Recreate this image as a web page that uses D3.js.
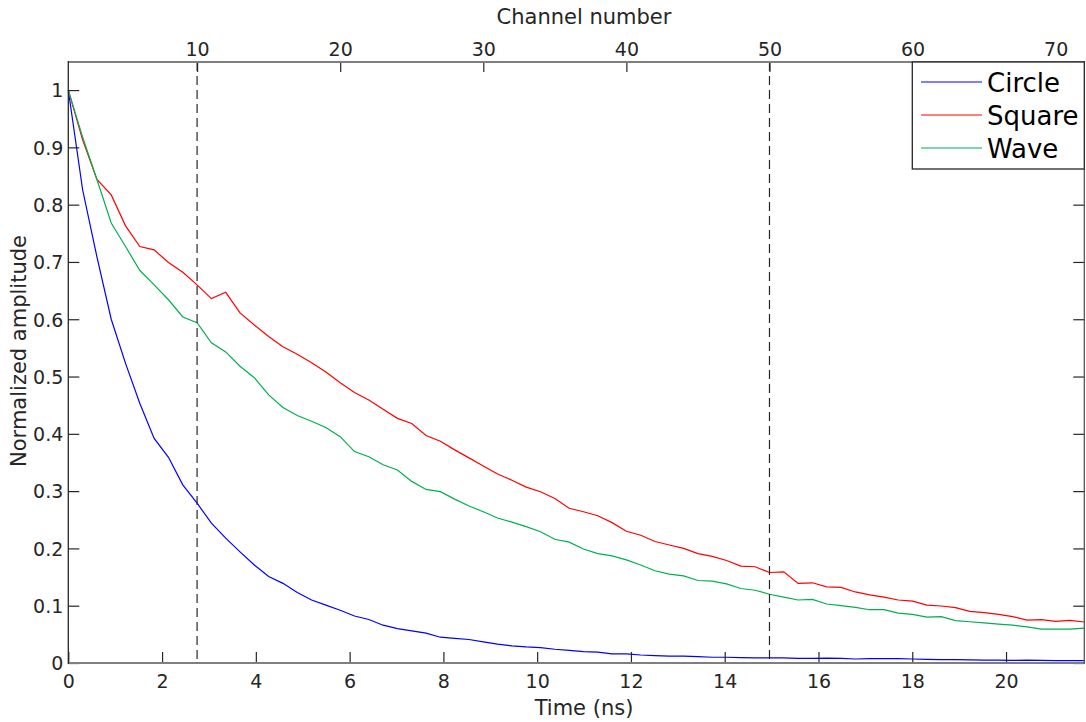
<!DOCTYPE html>
<html><head><meta charset="utf-8">
<script src="https://cdn.jsdelivr.net/npm/d3@7"></script>
<style>
html,body{margin:0;padding:0;background:#fff;}
svg text{font-family:"DejaVu Sans",sans-serif;fill:#262626;}
svg .tick text{font-size:19px;}
</style></head>
<body>
<svg id="chart" width="1086" height="722"></svg>
<script>
// ---------- data ----------
const channels = d3.range(1, 73);           // channel numbers 1..72
const nsPerChannel = 0.3052;                 // time step between channels
const circle = [1.0,0.826,0.709,0.600,0.523,0.453,0.392,0.359,0.311,0.279,
  0.244,0.218,0.194,0.171,0.151,0.139,0.123,0.110,0.101,0.092,
  0.082,0.076,0.066,0.060,0.056,0.052,0.045,0.043,0.041,0.037,
  0.033,0.030,0.028,0.027,0.024,0.022,0.020,0.019,0.016,0.016,
  0.014,0.013,0.012,0.012,0.011,0.010,0.010,0.0095,0.009,0.009,
  0.009,0.008,0.008,0.0085,0.008,0.007,0.0075,0.0075,0.0075,0.007,
  0.0065,0.006,0.006,0.0055,0.005,0.005,0.0045,0.005,0.0045,0.004,
  0.004,0.004];
const square = [1.0,0.913,0.844,0.817,0.763,0.727,0.721,0.699,0.682,0.660,
  0.636,0.647,0.611,0.590,0.570,0.552,0.539,0.524,0.508,0.489,
  0.472,0.459,0.443,0.427,0.418,0.397,0.387,0.372,0.358,0.344,
  0.330,0.319,0.307,0.299,0.287,0.270,0.264,0.257,0.245,0.230,
  0.223,0.212,0.206,0.200,0.191,0.186,0.179,0.169,0.168,0.158,
  0.159,0.139,0.140,0.133,0.132,0.124,0.119,0.115,0.110,0.108,
  0.101,0.0995,0.0966,0.090,0.088,0.085,0.081,0.075,0.0757,0.0727,
  0.0745,0.0716];
const wave = [1.0,0.918,0.844,0.768,0.727,0.685,0.660,0.634,0.604,0.594,
  0.559,0.543,0.518,0.498,0.468,0.446,0.432,0.422,0.411,0.395,
  0.369,0.360,0.346,0.337,0.317,0.303,0.299,0.286,0.274,0.264,
  0.253,0.246,0.238,0.229,0.216,0.211,0.199,0.191,0.187,0.180,
  0.171,0.161,0.155,0.152,0.144,0.143,0.138,0.130,0.127,0.120,
  0.115,0.110,0.111,0.103,0.100,0.097,0.093,0.093,0.087,0.085,
  0.080,0.081,0.074,0.072,0.070,0.068,0.066,0.063,0.059,0.059,
  0.059,0.061];
const seriesNames = ["Circle","Square","Wave"];
const seriesColors = ["#0000ff","#ff0000","#00b050"];
const timeTicks = [0,2,4,6,8,10,12,14,16,18,20];
const channelTicks = [10,20,30,40,50,60,70];
const ampTicks = [0,0.1,0.2,0.3,0.4,0.5,0.6,0.7,0.8,0.9,1];
const markerChannels = [10,50];

// ---------- layout ----------
const L = 68.3, R = 1084.3, T = 62, B = 663;
const svg = d3.select("#chart");
const tMax = (channels[channels.length-1]-1)*nsPerChannel;
const x = d3.scaleLinear().domain([0, tMax]).range([L, R]);
const xc = d3.scaleLinear().domain([channels[0], channels[channels.length-1]]).range([L, R]);
const y = d3.scaleLinear().domain([0, 1.049]).range([B, T]);
const dark = "#262626";

// lines
const all = [circle, square, wave];
const line = d3.line().x((d,i)=>x((channels[i]-1)*nsPerChannel)).y(d=>y(d));
all.forEach((s,k)=>{
  svg.append("path").attr("d", line(s)).attr("fill","none")
    .attr("stroke", seriesColors[k]).attr("stroke-width",1.2);
});

// dashed markers
markerChannels.forEach(c=>{
  svg.append("line").attr("x1",xc(c)).attr("x2",xc(c)).attr("y1",T).attr("y2",B)
    .attr("stroke",dark).attr("stroke-width",1.2).attr("stroke-dasharray","9,5");
});

// ticks via axes
const gB = svg.append("g").attr("transform",`translate(0,${B})`)
  .call(d3.axisBottom(x).tickValues(timeTicks).tickSizeInner(-11).tickSizeOuter(0).tickPadding(12).tickFormat(d3.format("d")));
const gT = svg.append("g").attr("transform",`translate(0,${T})`)
  .call(d3.axisTop(xc).tickValues(channelTicks).tickSizeInner(-10).tickSizeOuter(0).tickPadding(6).tickFormat(d3.format("d")));
const gL = svg.append("g").attr("transform",`translate(${L},0)`)
  .call(d3.axisLeft(y).tickValues(ampTicks).tickSizeInner(-11).tickSizeOuter(0).tickPadding(5).tickFormat(d=>d===0?"0":d===1?"1":d3.format(".1f")(d)));
const gR = svg.append("g").attr("transform",`translate(${R},0)`)
  .call(d3.axisRight(y).tickValues(ampTicks).tickSizeInner(-11).tickSizeOuter(0).tickFormat(""));
[gB,gT,gL,gR].forEach(g=>{
  g.attr("font-size",19).attr("font-family","DejaVu Sans");
  g.select(".domain").remove();
  g.selectAll(".tick line").attr("stroke",dark).attr("stroke-width",1.2);
  g.selectAll(".tick text").style("fill",dark);
});
gT.selectAll(".tick text").attr("dy","0");
gL.selectAll(".tick text").attr("dy","0.36em");

// box lines
svg.append("line").attr("x1",L).attr("x2",R).attr("y1",T).attr("y2",T).attr("stroke","#7f7f7f").attr("stroke-width",2);
svg.append("line").attr("x1",L).attr("x2",R).attr("y1",B).attr("y2",B).attr("stroke","#7f7f7f").attr("stroke-width",2);
svg.append("line").attr("x1",L).attr("x2",L).attr("y1",T-1).attr("y2",B+1).attr("stroke",dark).attr("stroke-width",1.3);
svg.append("line").attr("x1",R).attr("x2",R).attr("y1",T-1).attr("y2",B+1).attr("stroke","#555").attr("stroke-width",1.3);

// titles
svg.append("text").attr("x",584).attr("y",24).attr("text-anchor","middle").attr("font-size",21).text("Channel number");
svg.append("text").attr("x",584).attr("y",715).attr("text-anchor","middle").attr("font-size",21).text("Time (ns)");
svg.append("text").attr("transform","translate(26,351) rotate(-90)").attr("text-anchor","middle").attr("font-size",21).text("Normalized amplitude");

// legend
const lg = svg.append("g");
lg.append("rect").attr("x",912.3).attr("y",T).attr("width",R-912.3).attr("height",107)
  .attr("fill","#fff").attr("stroke",dark).attr("stroke-width",1.3);
seriesNames.forEach((n,k)=>{
  const yy = 82 + k*33;
  lg.append("line").attr("x1",921).attr("x2",982).attr("y1",yy).attr("y2",yy)
    .attr("stroke",seriesColors[k]).attr("stroke-width",1.2);
  lg.append("text").attr("x",987).attr("y",yy+10).attr("font-size",26).style("fill","#000").text(n);
});
</script>
</body></html>
